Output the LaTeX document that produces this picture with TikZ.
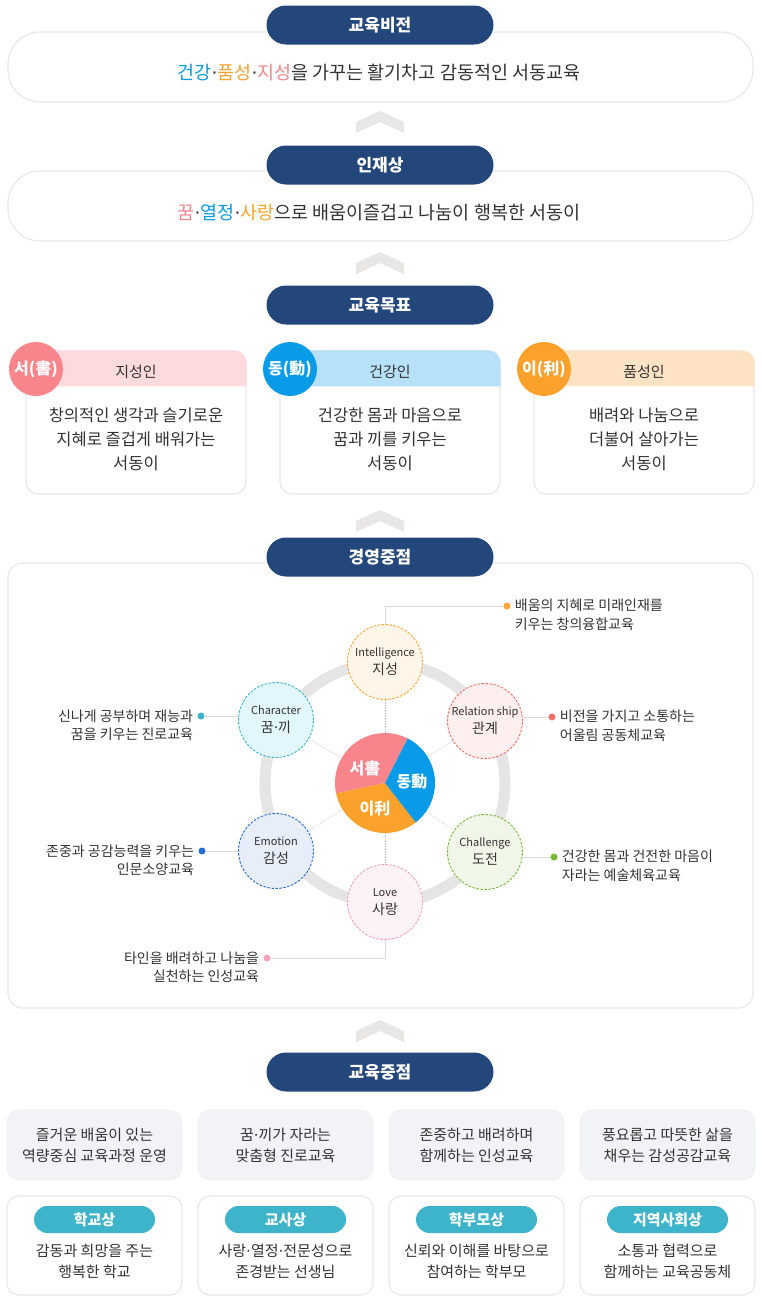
\documentclass[tikz,border=0pt]{standalone}
\usepackage{fontspec}
\setmainfont{Noto Sans CJK KR}
\newfontfamily\dotfont{DejaVu Sans}
\usetikzlibrary{positioning}

\definecolor{navy}{RGB}{35,70,123}
\definecolor{textgray}{RGB}{51,51,51}
\definecolor{chevgray}{RGB}{233,230,230}
\definecolor{seopink}{RGB}{247,133,139}
\definecolor{dongblue}{RGB}{10,155,232}
\definecolor{iorange}{RGB}{251,161,44}
\definecolor{bandpink}{RGB}{253,218,222}
\definecolor{bandblue}{RGB}{182,225,248}
\definecolor{bandpeach}{RGB}{253,227,196}
\definecolor{ringgray}{RGB}{229,229,229}
\definecolor{linegray}{RGB}{218,218,218}
\definecolor{boxgray}{RGB}{241,243,246}
\definecolor{teal}{RGB}{61,180,201}
\definecolor{inteldraw}{RGB}{249,166,58}
\definecolor{intelfill}{RGB}{255,245,232}
\definecolor{chardraw}{RGB}{58,181,200}
\definecolor{charfill}{RGB}{226,247,251}
\definecolor{reldraw}{RGB}{246,112,102}
\definecolor{relfill}{RGB}{255,240,239}
\definecolor{emodraw}{RGB}{40,108,216}
\definecolor{emofill}{RGB}{232,238,249}
\definecolor{chaldraw}{RGB}{122,184,58}
\definecolor{chalfill}{RGB}{241,247,232}
\definecolor{lovedraw}{RGB}{243,160,189}
\definecolor{lovefill}{RGB}{253,242,246}

% narrow middle dot
\newcommand{\mdot}{{\dotfont ·}}

\begin{document}
\begin{tikzpicture}[x=1pt,y=-1pt,
    title/.style={fill=navy, text=white, font=\bfseries\fontsize{17}{17}\selectfont,
      rounded corners=19.5pt, minimum width=227pt, minimum height=39pt, inner sep=0pt},
    panel/.style={fill=white, draw=black!9, line width=1.2pt, inner sep=0pt},
    chev/.style={fill=chevgray},
    txt/.style={text=textgray, align=center, inner sep=0pt},
    card/.style={panel, rounded corners=12pt, minimum width=220pt, minimum height=143pt},
    badge/.style={circle, minimum size=54pt, inner sep=0pt, text=white,
      font=\bfseries\fontsize{16}{16}\selectfont},
    hexnode/.style 2 args={circle, minimum size=75pt, inner sep=0pt, draw=#1, fill=#2,
      dash pattern=on 2.5pt off 1.5pt, line width=0.9pt, align=center, text=textgray,
      font=\fontsize{11}{18}\selectfont},
    spoke/.style={draw=black!25, densely dotted, line width=0.6pt},
    dot/.style={circle, minimum size=7pt, inner sep=0pt},
    callline/.style={draw=linegray, line width=0.8pt},
    callout/.style={text=textgray, inner sep=0pt, font=\fontsize{14}{18.5}\selectfont},
    focusbox/.style={fill=boxgray, draw=black!5, line width=1pt, rounded corners=12pt,
      minimum width=175pt, minimum height=70pt, inner sep=0pt, align=center,
      text=textgray, font=\fontsize{15}{21}\selectfont},
    rolebox/.style={panel, rounded corners=12pt, minimum width=175pt, minimum height=99pt},
    rolepill/.style={fill=teal, text=white, font=\bfseries\fontsize{15}{15}\selectfont,
      rounded corners=13.5pt, minimum width=121pt, minimum height=27pt, inner sep=0pt}
  ]
  \useasboundingbox (0,0) rectangle (762,1301);

  % Vision
  \node[panel, rounded corners=32pt, minimum width=745pt, minimum height=70pt] (visionbox) at (380.5,67) {};
  \node[title] (vision) at (380,25) {교육비전};
  \node[txt, font=\fontsize{18.5}{20}\selectfont] (visiontext) at (379,73)
    {\textcolor{dongblue}{건강}\mdot\textcolor{iorange}{품성}\mdot\textcolor{seopink}{지성}을 가꾸는 활기차고 감동적인 서동교육};
  \fill[chev] (356,122) -- ++(24,-11) -- ++(24,11) -- ++(0,11) -- ++(-24,-11) -- ++(-24,11) -- cycle;

  % Talent
  \node[panel, rounded corners=32pt, minimum width=745pt, minimum height=70pt] (talentbox) at (380.5,206) {};
  \node[title] (talent) at (380,165) {인재상};
  \node[txt, font=\fontsize{18.5}{20}\selectfont] (talenttext) at (379,213)
    {\textcolor{seopink}{꿈}\mdot\textcolor{dongblue}{열정}\mdot\textcolor{iorange}{사랑}으로 배움이즐겁고 나눔이 행복한 서동이};
  \fill[chev] (356,263) -- ++(24,-11) -- ++(24,11) -- ++(0,11) -- ++(-24,-11) -- ++(-24,11) -- cycle;

  % Goals
  \node[title] (goal) at (380,305) {교육목표};
  \node[card] (seocard) at (136,422.5) {};
  \node[card] (dongcard) at (390,422.5) {};
  \node[card] (icard) at (644,422.5) {};
  \fill[bandpink] ([yshift=-36pt]seocard.north west) [rounded corners=12pt] -- (seocard.north west)
    -- (seocard.north east) [sharp corners] -- ([yshift=-36pt]seocard.north east) -- cycle;
  \fill[bandblue] ([yshift=-36pt]dongcard.north west) [rounded corners=12pt] -- (dongcard.north west)
    -- (dongcard.north east) [sharp corners] -- ([yshift=-36pt]dongcard.north east) -- cycle;
  \fill[bandpeach] ([yshift=-36pt]icard.north west) [rounded corners=12pt] -- (icard.north west)
    -- (icard.north east) [sharp corners] -- ([yshift=-36pt]icard.north east) -- cycle;
  \node[badge, fill=seopink] (seobadge) at (36,369) {서(書)};
  \node[badge, fill=dongblue] (dongbadge) at (290,369) {동(動)};
  \node[badge, fill=iorange] (ibadge) at (544,369) {이(利)};
  \node[txt, font=\fontsize{15}{15}\selectfont] (seohead) at (136,372) {지성인};
  \node[txt, font=\fontsize{15}{15}\selectfont] (donghead) at (390,372) {건강인};
  \node[txt, font=\fontsize{15}{15}\selectfont] (ihead) at (644,372) {품성인};
  \node[txt, font=\fontsize{16.5}{24}\selectfont] (seobody) at (136,439) {창의적인 생각과 슬기로운\\지혜로 즐겁게 배워가는\\서동이};
  \node[txt, font=\fontsize{16.5}{24}\selectfont] (dongbody) at (390,439) {건강한 몸과 마음으로\\꿈과 끼를 키우는\\서동이};
  \node[txt, font=\fontsize{16.5}{24}\selectfont] (ibody) at (644,439) {배려와 나눔으로\\더불어 살아가는\\서동이};
  \fill[chev] (356,521) -- ++(24,-11) -- ++(24,11) -- ++(0,11) -- ++(-24,-11) -- ++(-24,11) -- cycle;

  % Management
  \node[panel, rounded corners=15pt, minimum width=745pt, minimum height=445pt] (mgmtbox) at (380.5,785.5) {};
  \node[title] (mgmt) at (380,557) {경영중점};
  \node[circle, minimum size=100pt, inner sep=0pt] (pie) at (385,783) {};
  \draw[ringgray, line width=11pt] (pie.center) circle[radius=120pt];

  % Six circles
  \node[hexnode={inteldraw}{intelfill}] (intel) at (385,662) {Intelligence\\{\fontsize{14}{18}\selectfont 지성}};
  \node[hexnode={chardraw}{charfill}] (char) at (276,720) {Character\\{\fontsize{14}{18}\selectfont 꿈\mdot 끼}};
  \node[hexnode={reldraw}{relfill}] (rel) at (485,721) {Relation ship\\{\fontsize{14}{18}\selectfont 관계}};
  \node[hexnode={emodraw}{emofill}] (emo) at (276,851) {Emotion\\{\fontsize{14}{18}\selectfont 감성}};
  \node[hexnode={chaldraw}{chalfill}] (chal) at (485,852) {Challenge\\{\fontsize{14}{18}\selectfont 도전}};
  \node[hexnode={lovedraw}{lovefill}] (love) at (385,902) {Love\\{\fontsize{14}{18}\selectfont 사랑}};
  \draw[spoke] (pie) -- (intel);
  \draw[spoke] (pie) -- (char);
  \draw[spoke] (pie) -- (rel);
  \draw[spoke] (pie) -- (emo);
  \draw[spoke] (pie) -- (chal);
  \draw[spoke] (pie) -- (love);

  % Pie
  \fill[seopink] (pie.center) -- ++(63:50pt) arc[start angle=63, end angle=192, radius=50pt] -- cycle;
  \fill[iorange] (pie.center) -- ++(192:50pt) arc[start angle=192, end angle=308, radius=50pt] -- cycle;
  \fill[dongblue] (pie.center) -- ++(308:50pt) arc[start angle=308, end angle=423, radius=50pt] -- cycle;
  \node[text=white, font=\bfseries\fontsize{16}{16}\selectfont] (seolabel) at (365,768) {서書};
  \node[text=white, font=\bfseries\fontsize{16}{16}\selectfont] (donglabel) at (412,782) {동動};
  \node[text=white, font=\bfseries\fontsize{16}{16}\selectfont] (ilabel) at (375,808) {이利};

  % Callouts
  \node[dot, fill=inteldraw] (inteldot) at (507,606) {};
  \draw[callline] (intel.north) |- (inteldot);
  \node[callout, align=left, right=4pt of inteldot, yshift=-9pt] (inteltext) {배움의 지혜로 미래인재를\\키우는 창의융합교육};
  \node[dot, fill=reldraw] (reldot) at (552,717) {};
  \draw[callline] (reldot) -- (reldot -| rel.east);
  \node[callout, align=left, right=4pt of reldot, yshift=-9pt] (reltext) {비전을 가지고 소통하는\\어울림 공동체교육};
  \node[dot, fill=chaldraw] (chaldot) at (554,857) {};
  \draw[callline] (chaldot) -- (chaldot -| chal.east);
  \node[callout, align=left, right=4pt of chaldot, yshift=-9pt] (chaltext) {건강한 몸과 건전한 마음이\\자라는 예술체육교육};
  \node[dot, fill=chardraw] (chardot) at (201,716) {};
  \draw[callline] (chardot) -- (chardot -| char.west);
  \node[callout, align=right, left=4pt of chardot, yshift=-9pt] (chartext) {신나게 공부하며 재능과\\꿈을 키우는 진로교육};
  \node[dot, fill=emodraw] (emodot) at (202,851) {};
  \draw[callline] (emodot) -- (emodot -| emo.west);
  \node[callout, align=right, left=4pt of emodot, yshift=-9pt] (emotext) {존중과 공감능력을 키우는\\인문소양교육};
  \node[dot, fill=lovedraw] (lovedot) at (267,958) {};
  \draw[callline] (love.south) |- (lovedot);
  \node[callout, align=right, left=4pt of lovedot, yshift=-9pt] (lovetext) {타인을 배려하고 나눔을\\실천하는 인성교육};
  \fill[chev] (356,1031) -- ++(24,-11) -- ++(24,11) -- ++(0,11) -- ++(-24,-11) -- ++(-24,11) -- cycle;

  % Focus
  \node[title] (focus) at (380,1072) {교육중점};
  \node[focusbox] (focusa) at (94.5,1145) {즐거운 배움이 있는\\역량중심 교육과정 운영};
  \node[focusbox] (focusb) at (285.5,1145) {꿈\mdot 끼가 자라는\\맞춤형 진로교육};
  \node[focusbox] (focusc) at (476.5,1145) {존중하고 배려하며\\함께하는 인성교육};
  \node[focusbox] (focusd) at (667.5,1145) {풍요롭고 따뜻한 삶을\\채우는 감성공감교육};

  % Roles
  \node[rolebox] (schoolbox) at (94.5,1245.5) {};
  \node[rolebox] (teacherbox) at (285.5,1245.5) {};
  \node[rolebox] (parentbox) at (476.5,1245.5) {};
  \node[rolebox] (townbox) at (667.5,1245.5) {};
  \node[rolepill] (school) at (94.5,1219.5) {학교상};
  \node[rolepill] (teacher) at (285.5,1219.5) {교사상};
  \node[rolepill] (parent) at (476.5,1219.5) {학부모상};
  \node[rolepill] (town) at (667.5,1219.5) {지역사회상};
  \node[txt, font=\fontsize{15}{21}\selectfont] (schooltext) at (94.5,1261.5) {감동과 희망을 주는\\행복한 학교};
  \node[txt, font=\fontsize{15}{21}\selectfont] (teachertext) at (285.5,1261.5) {사랑\mdot 열정\mdot 전문성으로\\존경받는 선생님};
  \node[txt, font=\fontsize{15}{21}\selectfont] (parenttext) at (476.5,1261.5) {신뢰와 이해를 바탕으로\\참여하는 학부모};
  \node[txt, font=\fontsize{15}{21}\selectfont] (towntext) at (667.5,1261.5) {소통과 협력으로\\함께하는 교육공동체};
\end{tikzpicture}
\end{document}
